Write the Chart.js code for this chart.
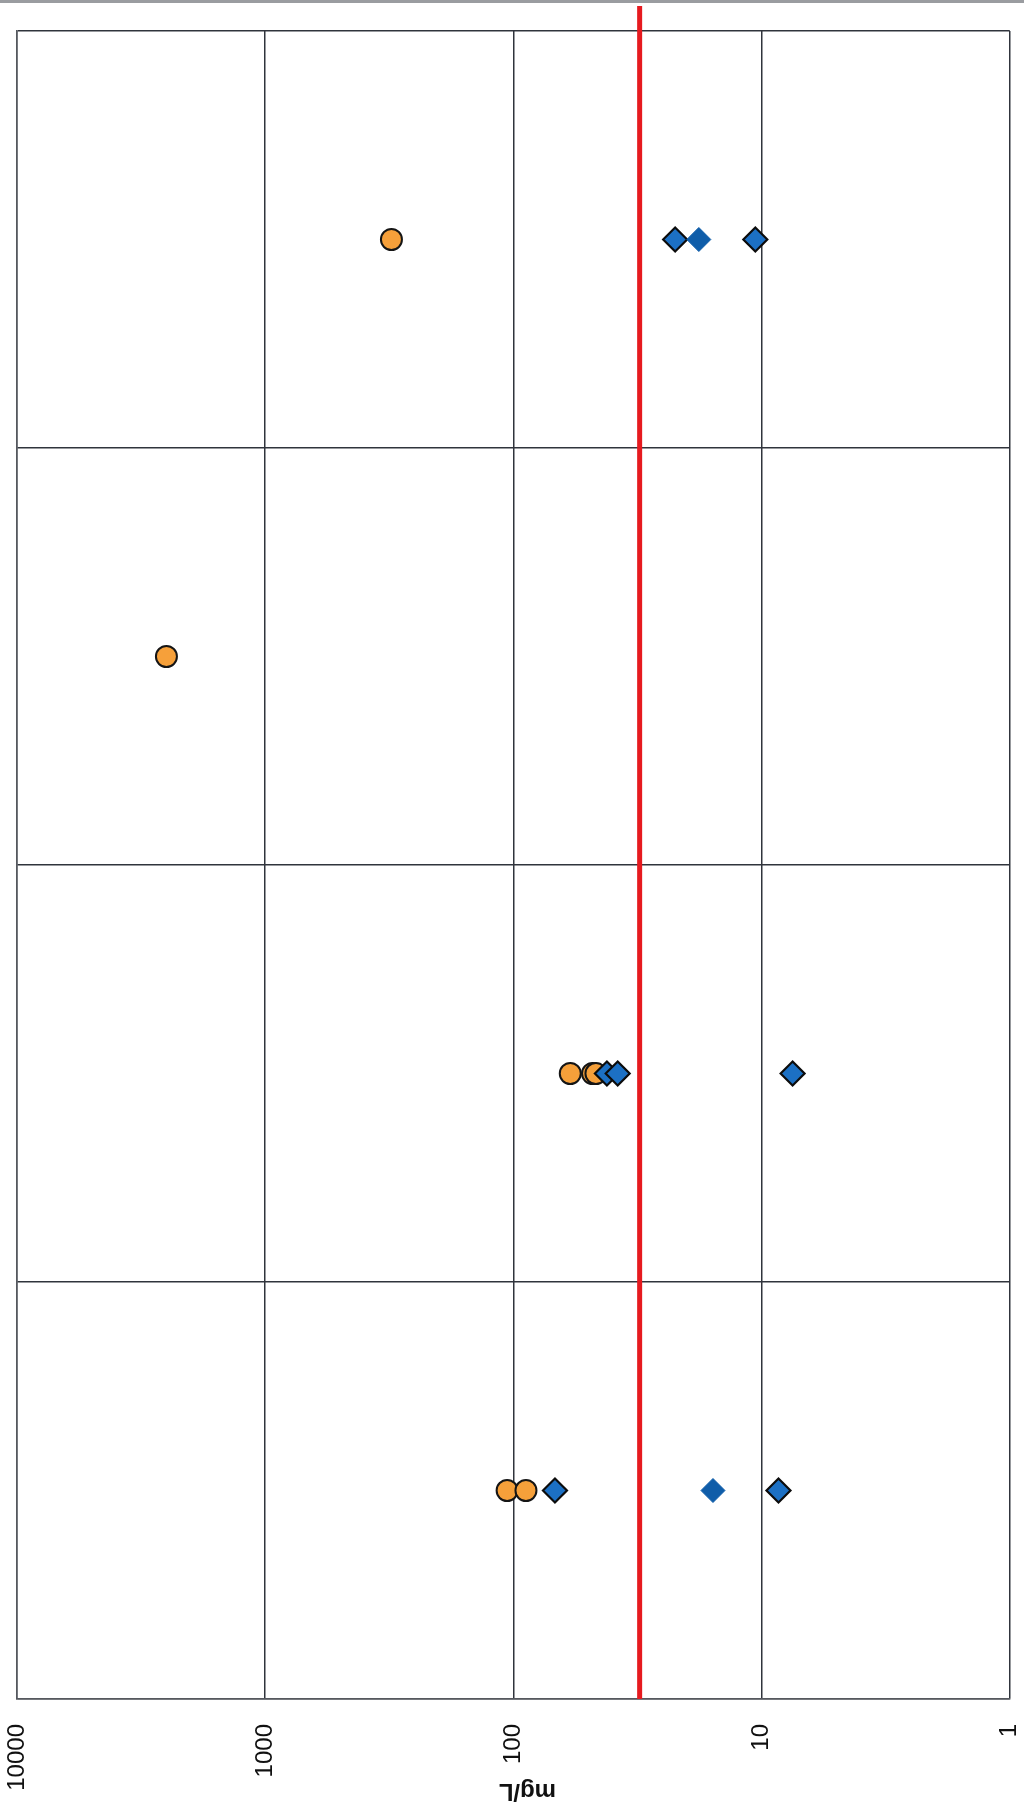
<!DOCTYPE html>
<html>
<head>
<meta charset="utf-8">
<style>
  html, body { margin: 0; padding: 0; background: #fff; }
  #wrap { position: relative; width: 1024px; height: 1818px; }
  #rule { position: absolute; left: 0; top: 0; width: 1024px; height: 3px; background: #9a9ca0; }
  canvas { position: absolute; left: 0; top: 0; }
</style>
<script src="https://cdn.jsdelivr.net/npm/chart.js@4.4.1/dist/chart.umd.min.js"></script>
</head>
<body>
<div id="wrap">
  <div id="rule"></div>
  <canvas id="c" width="1024" height="1818"></canvas>
</div>
<script>
// Four sample groups, listed from top to bottom
const groups = ['1', '2', '3', '4'];

// Concentrations (mg/L) per group
const orangeValues = [[310], [2500], [59, 48, 46.5], [106, 89]];
const blueValues = [[22.3, 10.6], [], [42, 38, 7.5], [68, 8.55]];
const blueFlatValues = [[17.9], [], [], [15.7]];

// Limit value drawn as the red line
const limitValue = 31;

// Value axis
const xTickValues = [1, 10, 100, 1000, 10000];
const xTitle = 'mg/L';

function toPoints(values) {
  const pts = [];
  values.forEach((list, i) => {
    const y = groups.length - i - 0.5;
    list.forEach(v => pts.push({ x: v, y: y }));
  });
  return pts;
}

// Axis title, drawn upside down below the tick labels
const flippedTitle = {
  id: 'flippedTitle',
  afterDraw(chart) {
    const ctx = chart.ctx;
    const a = chart.chartArea;
    ctx.save();
    ctx.translate((a.left + a.right) / 2 + 14, 1791);
    ctx.rotate(Math.PI);
    ctx.font = 'bold 24px "Liberation Sans", Arial, sans-serif';
    ctx.fillStyle = '#111';
    ctx.textAlign = 'center';
    ctx.textBaseline = 'middle';
    ctx.fillText(xTitle, 0, 0);
    ctx.restore();
  }
};

new Chart(document.getElementById('c'), {
  type: 'scatter',
  data: {
    datasets: [
      {
        label: 'blue-flat',
        data: toPoints(blueFlatValues),
        pointStyle: 'rectRot',
        pointRadius: 12,
        backgroundColor: '#0f5da9',
        borderColor: '#0f5da9',
        borderWidth: 1
      },
      {
        label: 'blue',
        data: toPoints(blueValues),
        pointStyle: 'rectRot',
        pointRadius: 12,
        backgroundColor: '#1c70c4',
        borderColor: '#0c0c0c',
        borderWidth: 2.2
      },
      {
        label: 'orange',
        data: toPoints(orangeValues),
        pointStyle: 'circle',
        pointRadius: 10.5,
        backgroundColor: '#f6a03a',
        borderColor: '#151515',
        borderWidth: 2
      },
      {
        type: 'line',
        label: 'limit',
        data: [{ x: limitValue, y: 0 }, { x: limitValue, y: 4.06 }],
        borderColor: '#e61a1f',
        borderWidth: 5,
        pointRadius: 0,
        clip: false
      }
    ]
  },
  options: {
    responsive: false,
    animation: false,
    devicePixelRatio: 1,
    layout: { padding: { left: 17, right: 8, top: 31, bottom: 0 } },
    plugins: { legend: { display: false }, tooltip: { enabled: false } },
    scales: {
      x: {
        type: 'logarithmic',
        position: 'bottom',
        reverse: true,
        min: 1,
        max: 10000,
        afterBuildTicks(scale) {
          scale.ticks = xTickValues.map(v => ({ value: v, major: true }));
        },
        afterFit(scale) { scale.height = 1818 - 1699; },
        grid: { color: '#30343c', lineWidth: 1.5, drawTicks: false },
        border: { color: '#55585e', width: 1.5 },
        ticks: {
          autoSkip: false,
          minRotation: 90,
          maxRotation: 90,
          padding: 25,
          color: '#111',
          font: { family: '"Liberation Sans", Arial, sans-serif', size: 24 },
          callback: v => String(v)
        }
      },
      y: {
        type: 'linear',
        min: 0,
        max: 4,
        afterBuildTicks(scale) {
          scale.ticks = [0, 1, 2, 3, 4].map(v => ({ value: v }));
        },
        afterFit(scale) { scale.width = 0; },
        grid: { color: '#30343c', lineWidth: 1.5, drawTicks: false },
        border: { color: '#55585e', width: 1.5 },
        ticks: { display: false }
      }
    }
  },
  plugins: [flippedTitle]
});
</script>
</body>
</html>
